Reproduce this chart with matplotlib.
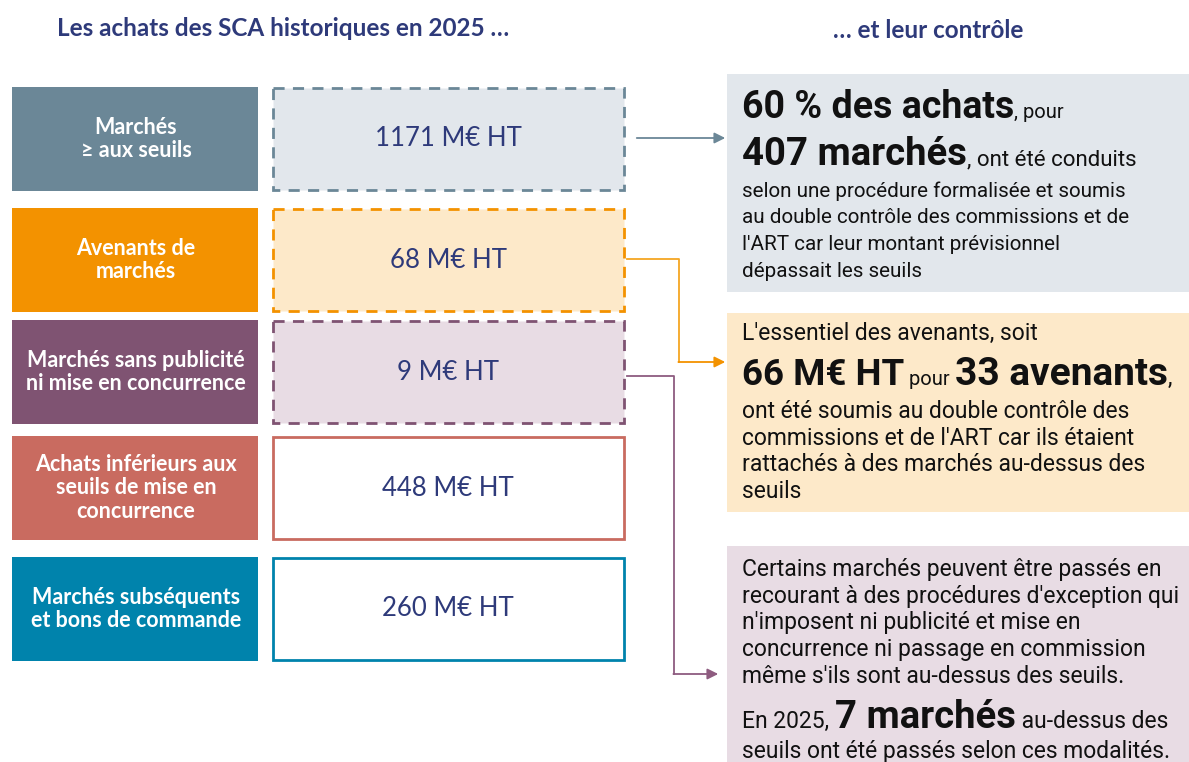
import matplotlib.pyplot as plt
from matplotlib.patches import Rectangle

# left column: categories and amounts
categories = ["Marchés\n≥ aux seuils", "Avenants de\nmarchés",
              "Marchés sans publicité\nni mise en concurrence",
              "Achats inférieurs aux\nseuils de mise en\nconcurrence",
              "Marchés subséquents\net bons de commande"]
amounts = [1171, 68, 9, 448, 260]
dashed = [True, True, True, False, False]

main_colors = ["#6B8797", "#F39200", "#7F5372", "#C96B60", "#0083AC"]
light_colors = ["#E2E7EC", "#FDE9C9", "#E8DCE4", "white", "white"]
row_top = [87, 208, 320, 436, 557]
row_h = 104

title_left = "Les achats des SCA historiques en 2025 …"
title_right = "… et leur contrôle"
navy = "#2E3A7A"

# right column text blocks: list of lines, each line a list of (text, size, bold)
block_a = [
    [("60 % des achats", 27, True), (", pour", 14.5, False)],
    [("407 marchés", 27.5, True), (", ont été conduits", 16, False)],
    [("selon une procédure formalisée et soumis", 14.9, False)],
    [("au double contrôle des commissions et de", 14.9, False)],
    [("l'ART car leur montant prévisionnel", 14.9, False)],
    [("dépassait les seuils", 14.9, False)],
]
block_b = [
    [("L'essentiel des avenants, soit", 16.5, False)],
    [("66 M€ HT", 26.5, True), (" pour ", 14.5, False), ("33 avenants", 28, True), (",", 16.5, False)],
    [("ont été soumis au double contrôle des", 16.5, False)],
    [("commissions et de l'ART car ils étaient", 16.5, False)],
    [("rattachés à des marchés au-dessus des", 16.5, False)],
    [("seuils", 16.5, False)],
]
block_c = [
    [("Certains marchés peuvent être passés en", 16.5, False)],
    [("recourant à des procédures d'exception qui", 16.5, False)],
    [("n'imposent ni publicité et mise en", 16.5, False)],
    [("concurrence ni passage en commission", 16.5, False)],
    [("même s'ils sont au-dessus des seuils.", 16.5, False)],
    [("En 2025, ", 16.5, False), ("7 marchés", 27.5, True), (" au-dessus des", 16.5, False)],
    [("seuils ont été passés selon ces modalités.", 16.5, False)],
]
baselines_a = [118, 165, 197, 223, 250, 277]
baselines_b = [340, 385, 418, 445, 471, 498]
baselines_c = [576, 603, 629, 656, 683, 728, 758]

fig = plt.figure(figsize=(11.89, 7.62), dpi=100)
ax = fig.add_axes([0, 0, 1, 1])
ax.set_xlim(0, 1189)
ax.set_ylim(762, 0)
ax.axis("off")

ax.text(57, 28, title_left, fontsize=17.5, fontweight="bold", color=navy,
        family="Lato", va="center", ha="left")
ax.text(928, 31, title_right, fontsize=17.5, fontweight="bold", color=navy,
        family="Lato", va="center", ha="center")

for cat, amt, dsh, mc, lc, top in zip(categories, amounts, dashed, main_colors,
                                        light_colors, row_top):
    ax.add_patch(Rectangle((12, top), 246, row_h, facecolor=mc, edgecolor="none"))
    ax.text(136, top + row_h / 2, cat, color="white", fontsize=15.5, fontweight="bold",
            family="Lato", ha="center", va="center", linespacing=1.15)
    ax.add_patch(Rectangle((273, top + 1), 351, row_h - 2, facecolor=lc, edgecolor=mc,
                           linewidth=2, linestyle=(0, (4, 3)) if dsh else "-"))
    ax.text(448, top + row_h / 2, f"{amt} M€ HT", color=navy, fontsize=18.5,
            family="Lato", ha="center", va="center")

# right boxes
for (y0, y1), col in zip([(74, 292), (313, 512), (546, 770)],
                         ["#E2E7EC", "#FDE9C9", "#E8DCE4"]):
    ax.add_patch(Rectangle((727, y0), 470, y1 - y0, facecolor=col, edgecolor="none"))

fig.canvas.draw()
renderer = fig.canvas.get_renderer()


def draw_runs(lines, baselines, x0=742):
    for runs, yb in zip(lines, baselines):
        x = x0
        for txt, size, bold in runs:
            t = ax.text(x, yb, txt, fontsize=size, family="Roboto",
                        fontweight="bold" if bold else "normal", color="#111111",
                        ha="left", va="baseline")
            bb = t.get_window_extent(renderer=renderer)
            x += bb.width


draw_runs(block_a, baselines_a)
draw_runs(block_b, baselines_b)
draw_runs(block_c, baselines_c)

# connectors
ax.annotate("", xy=(728, 138), xytext=(634, 138),
            arrowprops=dict(arrowstyle="-|>", color="#6B8797", lw=1.3, mutation_scale=16))
ax.plot([627, 679, 679], [259, 259, 362], color="#F5A623", lw=1.3)
ax.annotate("", xy=(728, 362), xytext=(678.4, 362),
            arrowprops=dict(arrowstyle="-|>", color="#F39200", lw=1.3, mutation_scale=16,
                            shrinkA=0))
ax.plot([627, 674, 674], [376, 376, 674], color="#8E5C80", lw=1.3)
ax.annotate("", xy=(721, 674), xytext=(673.4, 674),
            arrowprops=dict(arrowstyle="-|>", color="#8E5C80", lw=1.3, mutation_scale=16,
                            shrinkA=0))

fig.savefig("out.png", dpi=100)
